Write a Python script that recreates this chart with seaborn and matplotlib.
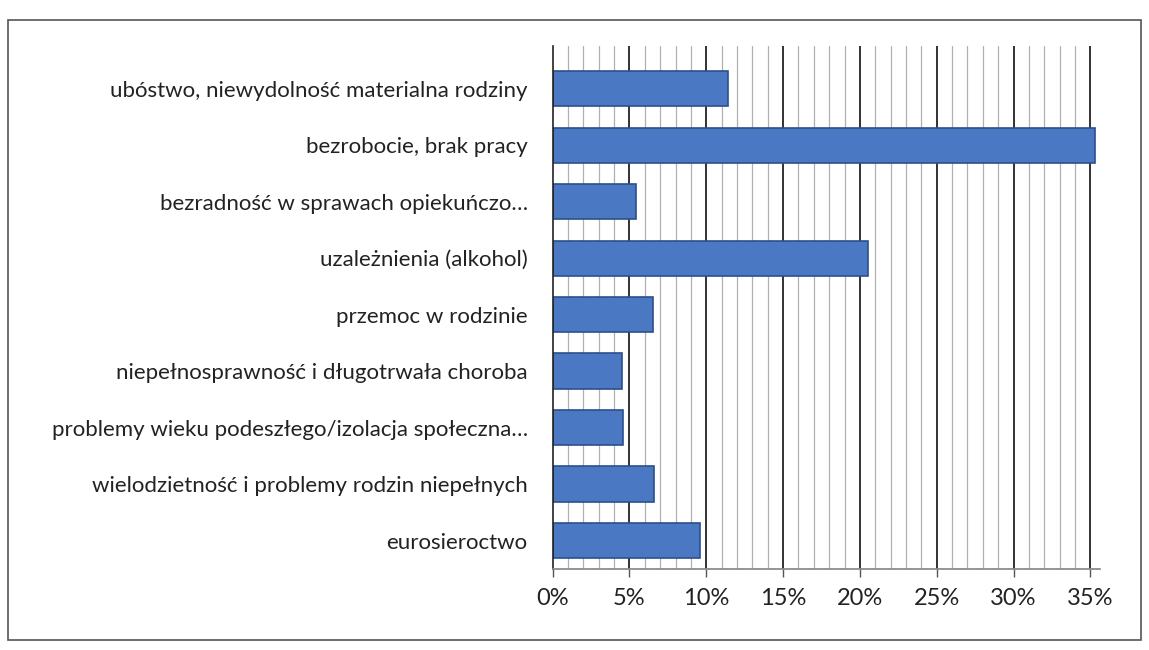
import matplotlib.pyplot as plt
import numpy as np
import pandas as pd
import seaborn as sns
from matplotlib.patches import Rectangle

categories = [
    "ubóstwo, niewydolność materialna rodziny",
    "bezrobocie, brak pracy",
    "bezradność w sprawach opiekuńczo…",
    "uzależnienia (alkohol)",
    "przemoc w rodzinie",
    "niepełnosprawność i długotrwała choroba",
    "problemy wieku podeszłego/izolacja społeczna…",
    "wielodzietność i problemy rodzin niepełnych",
    "eurosieroctwo",
]
shares = [11.4, 35.3, 5.4, 20.5, 6.5, 4.5, 4.6, 6.6, 9.6]
tick_values = [0, 5, 10, 15, 20, 25, 30, 35]
tick_labels = ["0%", "5%", "10%", "15%", "20%", "25%", "30%", "35%"]

sns.set_theme(style="white")
plt.rcParams["font.family"] = ["Lato", "DejaVu Sans"]

df = pd.DataFrame({"category": categories, "share": shares})

fig = plt.figure(figsize=(11.49, 6.5), dpi=100)
ax = fig.add_axes([0.481, 0.125, 0.476, 0.804])

# back-wall style grid: 1% minor, 5% major
for v in np.arange(1, 36):
    if v % 5 == 0:
        ax.axvline(v, color="#222222", linewidth=1.3, zorder=0)
    else:
        ax.axvline(v, color="#b0b0b0", linewidth=0.9, zorder=0)

sns.barplot(
    data=df,
    x="share",
    y="category",
    orient="h",
    color="#4a78c2",
    edgecolor="#2c4f8c",
    linewidth=1.2,
    width=0.62,
    saturation=1,
    ax=ax,
    zorder=2,
)

ax.set_xlim(0, 35.6)
ax.set_ylim(8.5, -0.75)
ax.set_xticks(tick_values)
ax.set_xticklabels(tick_labels, fontsize=17, color="#222222")
ax.tick_params(axis="x", bottom=True, length=6, width=1, color="#555555", pad=8)
ax.tick_params(axis="y", labelsize=16, colors="#222222", pad=12, left=False)
ax.set_xlabel("")
ax.set_ylabel("")
for side in ["top", "right"]:
    ax.spines[side].set_visible(False)
ax.spines["left"].set_color("#222222")
ax.spines["left"].set_linewidth(1.2)
ax.spines["bottom"].set_color("#888888")

# outer chart frame
fig.patches.append(
    Rectangle((0.007, 0.015), 0.986, 0.954, transform=fig.transFigure,
              fill=False, edgecolor="#555555", linewidth=1.2)
)

fig.savefig("out.png", dpi=100)
